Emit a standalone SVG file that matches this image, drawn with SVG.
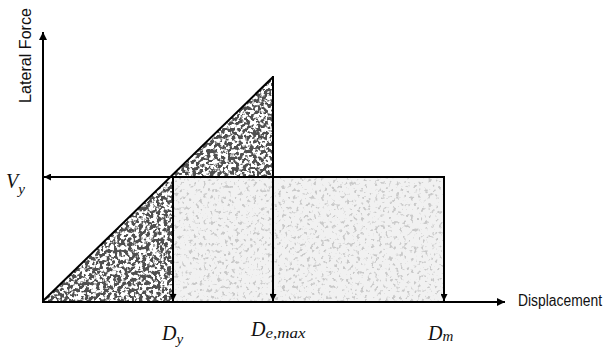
<svg xmlns="http://www.w3.org/2000/svg" width="614" height="349" viewBox="0 0 614 349">
<style>
.ln{stroke:#000;stroke-width:2;fill:none}
.lbl{font-family:"Liberation Sans",Arial,sans-serif;font-size:16px;fill:#111}
.math{font-family:"Liberation Serif","Times New Roman",serif;font-style:italic;fill:#111}
</style>
<defs>
<marker id="ah" viewBox="0 0 10 10" refX="10" refY="5" markerWidth="8" markerHeight="8" markerUnits="userSpaceOnUse" orient="auto">
<path d="M0,0 L10,5 L0,10 Z" fill="#000"/>
</marker>
<marker id="ahs" viewBox="0 0 10 10" refX="10" refY="5" markerWidth="7" markerHeight="7" markerUnits="userSpaceOnUse" orient="auto">
<path d="M0,0 L10,5 L0,10 Z" fill="#000"/>
</marker>
<filter id="fDark" filterUnits="userSpaceOnUse" x="40" y="70" width="240" height="235">
<feTurbulence type="fractalNoise" baseFrequency="0.28" numOctaves="2" seed="4" result="n"/>
<feColorMatrix in="n" type="matrix" values="0 0 0 0 0.08  0 0 0 0 0.08  0 0 0 0 0.08  -9 0 0 0 5" result="s"/>
<feComposite in="s" in2="SourceGraphic" operator="in"/>
</filter>
<filter id="fLight" filterUnits="userSpaceOnUse" x="170" y="175" width="280" height="130">
<feTurbulence type="fractalNoise" baseFrequency="0.28" numOctaves="2" seed="9" result="n"/>
<feColorMatrix in="n" type="matrix" values="0 0 0 0 0.5  0 0 0 0 0.5  0 0 0 0 0.5  -7 0 0 0 3.0" result="s"/>
<feComposite in="s" in2="SourceGraphic" operator="in"/>
</filter>
</defs>
<rect width="614" height="349" fill="#fff"/>

<g id="elastic-triangle">
<polygon points="43,301 273,77 273,301" fill="#fff"/>
<polygon points="43,301 273,77 273,301" fill="#000" filter="url(#fDark)"/>
</g>

<g id="ductile-rect">
<rect x="173" y="177" width="271" height="124" fill="#f1f1f1"/>
<rect x="173" y="177" width="271" height="124" fill="#000" opacity="0.75" filter="url(#fLight)"/>
</g>

<g id="connectors">
<line class="ln" x1="43" y1="302" x2="43" y2="32" marker-end="url(#ah)"/>
<line class="ln" x1="42" y1="302" x2="505" y2="302" marker-end="url(#ah)"/>
<line class="ln" x1="43" y1="301" x2="273" y2="77"/>
<line class="ln" x1="273" y1="76" x2="273" y2="301" marker-end="url(#ahs)"/>
<line class="ln" x1="444" y1="177" x2="44" y2="177" marker-end="url(#ahs)"/>
<line class="ln" x1="444" y1="176" x2="444" y2="301" marker-end="url(#ahs)"/>
<line class="ln" x1="173" y1="177" x2="173" y2="301" marker-end="url(#ahs)"/>
</g>

<g id="labels">
<text class="lbl" transform="translate(31,103) rotate(-90)" font-size="17" textLength="95" lengthAdjust="spacingAndGlyphs">Lateral Force</text>
<text class="lbl" x="518" y="306" font-size="15" textLength="84" lengthAdjust="spacingAndGlyphs">Displacement</text>
<text class="math" x="6" y="188" font-size="20">V<tspan font-size="15" dy="6">y</tspan></text>
<text class="math" x="162" y="340" font-size="20">D<tspan font-size="15" dy="4">y</tspan></text>
<text class="math" x="251" y="336" font-size="20">D<tspan font-size="15" dy="2" textLength="40" lengthAdjust="spacingAndGlyphs">e,max</tspan></text>
<text class="math" x="428" y="340" font-size="20">D<tspan font-size="15" dy="1">m</tspan></text>
</g>
</svg>
